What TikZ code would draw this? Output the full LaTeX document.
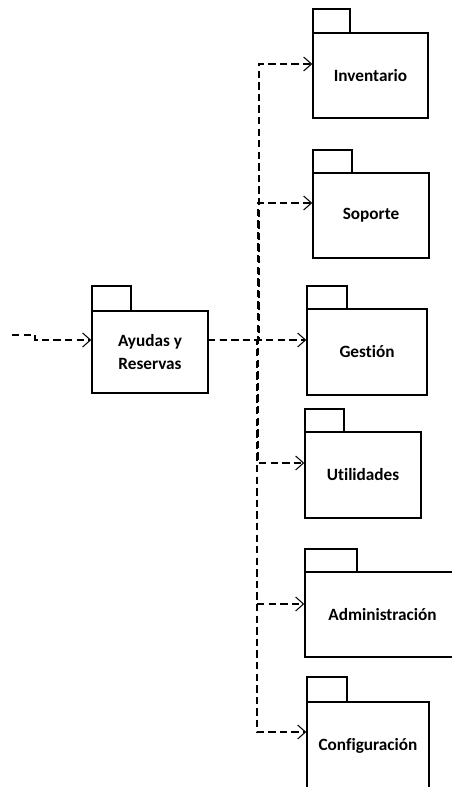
\documentclass[tikz,border=0pt]{standalone}
\usepackage{fontspec}
\setmainfont{Carlito}[RawFeature=-liga]
\usetikzlibrary{arrows.meta}
\begin{document}
\begin{tikzpicture}[x=0.02cm,y=-0.02cm,
  pkgbody/.style={draw,line width=0.8pt,fill=white,align=center,font=\bfseries\fontsize{9.8}{13}\selectfont,inner sep=0pt},
  pkgtab/.style={draw,line width=0.8pt,fill=white,inner sep=0pt},
  dep/.style={dashed,dash pattern=on 4.2pt off 2.4pt,line width=0.6pt,-{Straight Barb[length=4.5pt,width=8pt,line width=0.6pt]}}]
\useasboundingbox (0,0) rectangle (452,787);
\begin{scope}
\clip (0,0) rectangle (452,787);

% package boxes: tab on top, body below (corners in px)
\newcommand{\pkg}[8]{%
  \node[pkgtab,minimum width={(#5-#2)*0.02cm},minimum height={(#3-#6)*0.02cm}] (#1tab) at ({(#2+#5)/2},{(#3+#6)/2}) {};
  \node[pkgbody,minimum width={(#4-#2)*0.02cm},minimum height={(#7-#3)*0.02cm}] (#1) at ({(#2+#4)/2},{(#3+#7)/2}) {#8};}
% name, left, body top, right, tab right, tab top, bottom, label
\pkg{ayu}{92}{311}{208}{131}{286}{393}{Ayudas y\\Reservas}
\pkg{inv}{313}{33}{428}{350}{9}{118}{Inventario}
\pkg{sop}{313}{173}{429}{352}{150}{258}{Soporte}
\pkg{ges}{307}{309}{427}{347}{286}{395}{Gestión}
\pkg{uti}{305}{432}{421}{344}{409}{518}{Utilidades}
\pkg{adm}{305}{572}{460}{357}{549}{657}{Administración}
\pkg{con}{307}{702}{429}{347}{677}{790}{Configuración}

% incoming dependency
\coordinate (src) at (12,335);
\draw[dep] (src) -- (35,335) -- (35,340) -- (ayu.west |- 0,340);

% outgoing dependencies through the shared trunk
\coordinate (out) at (208,340);
\draw[dep] (out) -- (259,340) -- (259,64) -- (inv.west |- 0,64);
\draw[dep] (out) -- (258,340) -- (258,203) -- (sop.west |- 0,203);
\draw[dep] (out) -- (ges.west |- 0,340);
\draw[dep] (out) -- (258,340) -- (258,463) -- (uti.west |- 0,463);
\draw[dep] (out) -- (257,340) -- (257,604) -- (adm.west |- 0,604);
\draw[dep] (out) -- (257,340) -- (257,732) -- (con.west |- 0,732);
\end{scope}
\end{tikzpicture}
\end{document}
